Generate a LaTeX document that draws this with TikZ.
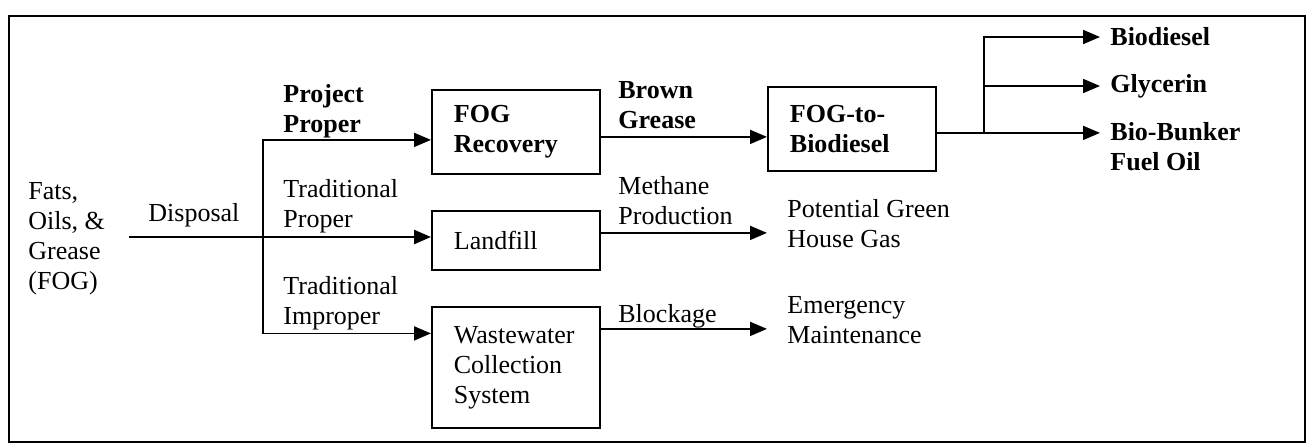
\documentclass[tikz,border=0pt]{standalone}
\usepackage{fontspec}
\setmainfont{Liberation Serif}
\usepackage{tikz}
\usetikzlibrary{arrows.meta}
\usetikzlibrary{positioning}
\newcommand{\flowfont}{\fontsize{13}{15}\selectfont}

\begin{document}
\begin{tikzpicture}[
    x=0.5pt, y=-0.5pt,
    every node/.style={font=\flowfont},
    flow/.style={-{Triangle[length=8.5pt, width=7pt]}, line width=0.9pt},
    plain/.style={line width=0.9pt},
    txt/.style={inner sep=0, align=left, anchor=west},
    bold/.style={txt, font=\flowfont\bfseries},
    unit/.style={rectangle, draw=black, line width=0.9pt, inner xsep=11pt,
        inner ysep=0, text width=62pt, align=left, anchor=north west},
    ]

    \useasboundingbox (0,0) rectangle (1307,444);
    \draw [line width=0.6pt] (9,16) rectangle (1305,442);

    % source
    \node (fog) [txt] at (28,239) {Fats,\\Oils, \&\\Grease\\(FOG)};
    \coordinate (split) at (263,237);

    % units
    \node (recovery) [unit, minimum height=42pt, font=\flowfont\bfseries]
        at (431,89) {FOG\\Recovery};
    \node (landfill) [unit, minimum height=29.5pt] at (431,210) {Landfill};
    \node (sewer) [unit, minimum height=60.5pt] at (431,306)
        {Wastewater\\Collection\\System};
    \node (conv) [unit, minimum height=42pt, font=\flowfont\bfseries]
        at (767,86) {FOG-to-\\Biodiesel};

    % labels
    \node (disposal) [txt] at (148,215) {Disposal};
    \node (pp) [bold] at (283,111) {Project\\Proper};
    \node (tp) [txt] at (283,206) {Traditional\\Proper};
    \node (ti) [txt] at (283,303) {Traditional\\Improper};
    \node (brown) [bold] at (618,105) {Brown\\Grease};
    \node (methane) [txt] at (618,201) {Methane\\Production};
    \node (blockage) [txt] at (618,316) {Blockage};
    \node (ghg) [txt] at (787,224) {Potential Green\\House Gas};
    \node (emerg) [txt] at (787,320) {Emergency\\Maintenance};

    % products
    \node (biodiesel) [bold] at (1110,37) {Biodiesel};
    \node (glycerin) [bold] at (1110,86) {Glycerin};
    \node (bunker) [bold, anchor=north west] at (1110,122) {Bio-Bunker\\Fuel Oil};

    % disposal routes
    \draw [plain, line width=1.2pt, shorten <=12pt] (fog.east |- split) -- (split);
    \draw [flow, line width=1.2pt] (split) -- (split -| landfill.west);
    \draw [flow] (split) |- ([yshift=-4pt]recovery.west);
    \draw [flow] (split) |- ([yshift=17pt]sewer.west);

    \coordinate (rec-out) at ([yshift=-2.5pt]recovery.east);
    \coordinate (lf-out) at ([yshift=3.75pt]landfill.east);
    \coordinate (sw-out) at ([yshift=19.25pt]sewer.east);
    \draw [flow] (rec-out) -- (rec-out -| conv.west);
    \draw [flow, shorten >=10pt] (lf-out) -- (lf-out -| ghg.west);
    \draw [flow, shorten >=10pt] (sw-out) -- (sw-out -| emerg.west);

    % products split
    \coordinate (conv-out) at ([yshift=-2pt]conv.east);
    \coordinate (fork) at ([xshift=23.5pt]conv-out);
    \draw [plain] (conv-out) -- (fork);
    \foreach \o in {biodiesel, glycerin} {
        \draw [flow, shorten >=5pt] (fork) |- (\o.west);
    }
    \draw [flow, shorten >=5pt] (fork) -- (fork -| bunker.west);
\end{tikzpicture}
\end{document}
